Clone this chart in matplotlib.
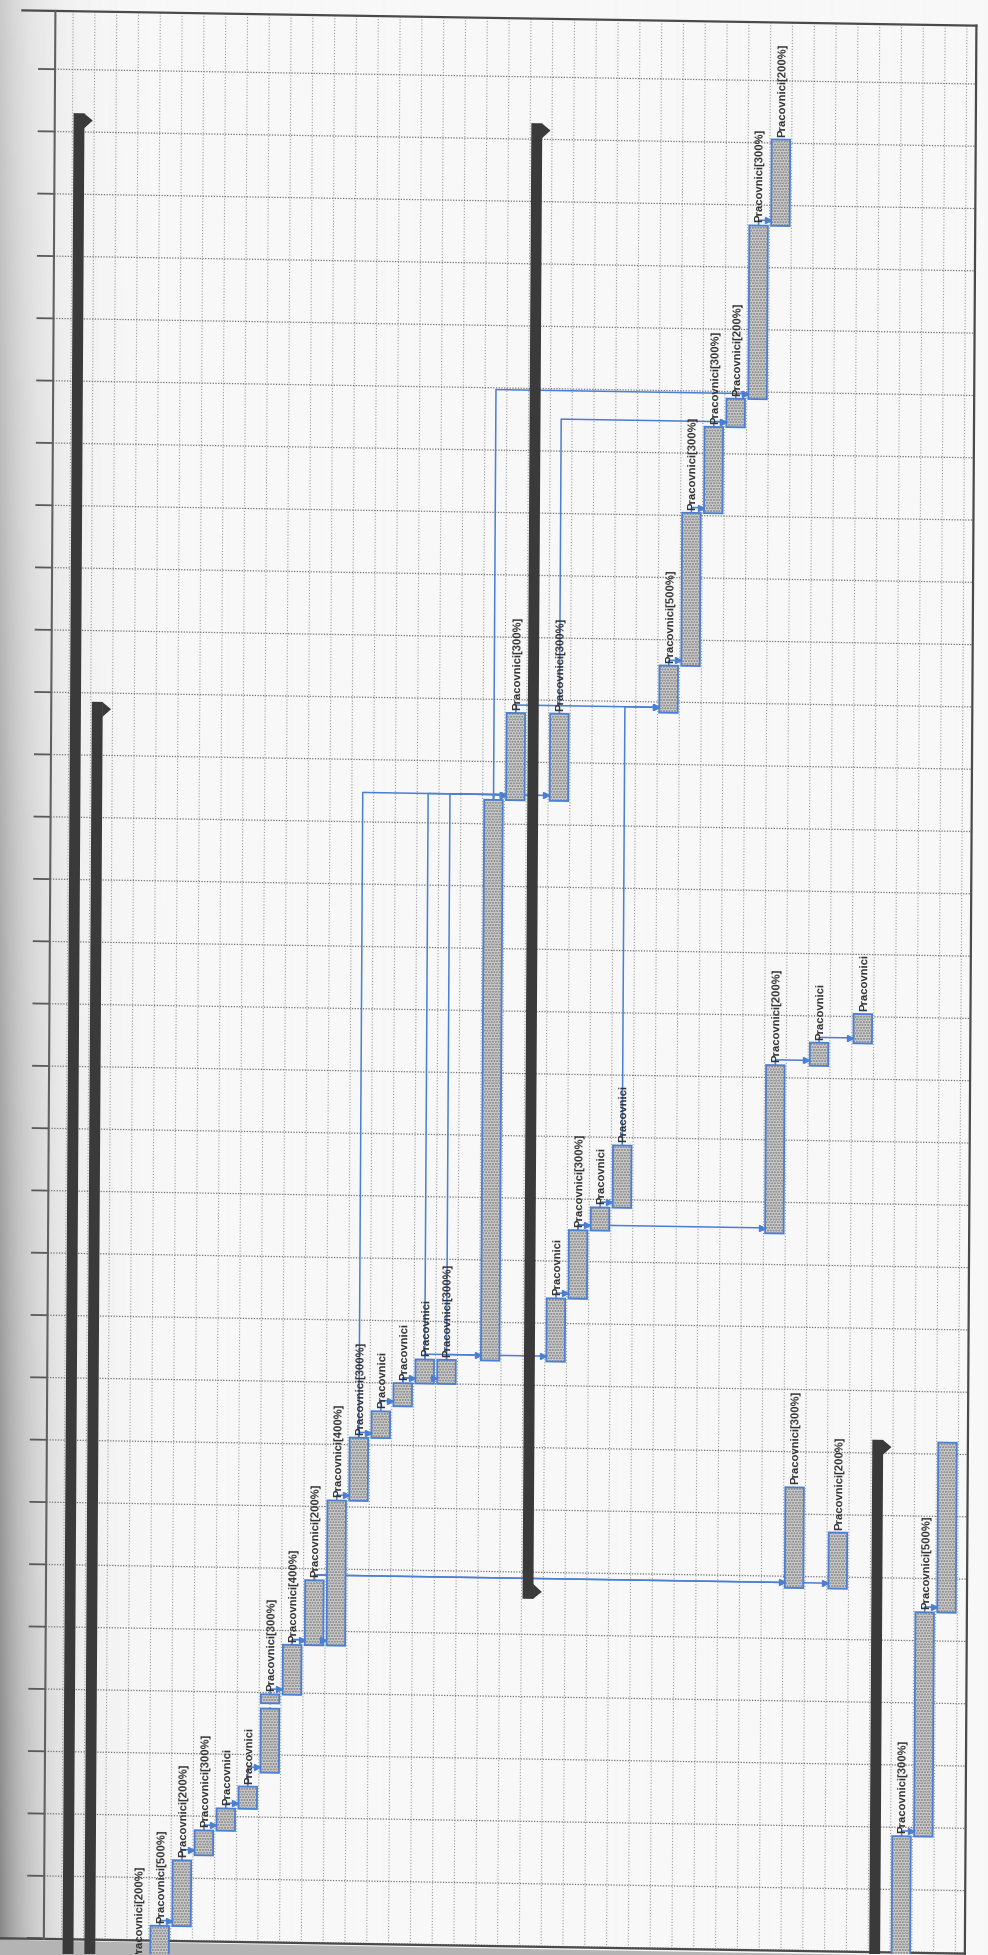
"""
Rotated Gantt chart (scanned MS Project print): time runs bottom -> top,
task rows run left -> right. Bars, links and resource labels.
"""

import numpy as np
import matplotlib
matplotlib.use("Agg")
import matplotlib.pyplot as plt
import matplotlib.transforms as mtransforms
from matplotlib.patches import Rectangle

plt.rcParams["font.family"] = ["Liberation Sans", "DejaVu Sans"]

# ── DATA ──────────────────────────────────────────────────────────────────────
# time in days (0 = a week line near the bottom), rows = task row index
task_ids = ["t0", "t1", "t2", "t3", "t4", "t5", "t6a", "t6b", "t7", "t8", "t9",
            "t10", "t11", "t12", "t13", "t14", "t16", "t17", "t19",
            "c1", "c2", "c3", "c4", "lb", "m1", "m2",
            "a", "b", "c", "d", "e", "f",
            "r30", "r32", "r35", "r36", "r37"]
task_rows = [0, 1, 2, 3, 4, 5, 6, 6, 7, 8, 9,
             10, 11, 12, 13, 14, 16, 17, 19,
             19, 20, 21, 22, 29, 31, 33,
             24, 25, 26, 27, 28, 29,
             30, 32, 35, 36, 37]
task_start = [-13.0, -11.0, -5.4, 2.6, 5.4, 7.9, 12.0, 19.8, 20.8, 26.4, 26.4,
              42.7, 49.8, 53.4, 56.0, 56.0, 58.7, 121.7, 121.7,
              58.7, 65.8, 73.5, 76.1, 73.5, 92.4, 95.0,
              131.8, 137.1, 154.3, 164.0, 167.2, 186.7,
              33.7, 33.7, -9.0, 6.0, 31.2]
task_end = [-9.5, -5.4, 2.0, 5.4, 7.9, 10.4, 19.2, 20.8, 26.4, 33.7, 42.7,
            49.8, 52.8, 56.0, 58.7, 58.7, 121.7, 131.5, 131.5,
            65.8, 73.5, 76.1, 83.1, 92.4, 95.0, 98.3,
            137.1, 154.3, 164.0, 167.2, 186.7, 196.4,
            45.0, 40.0, 6.0, 31.2, 50.3]
P = "Pracovnici"
task_labels = ["Pracovnici[200%]", "Pracovnici[500%]", "Pracovnici[200%]",
               "Pracovnici[300%]", P, P, "", "Pracovnici[300%]",
               "Pracovnici[400%]", "Pracovnici[200%]", "Pracovnici[400%]",
               "Pracovnici[300%]", P, P, P, "Pracovnici[300%]", "",
               "Pracovnici[300%]", "Pracovnici[300%]",
               P, "Pracovnici[300%]", P, P, "Pracovnici[200%]", P, P,
               "Pracovnici[500%]", "Pracovnici[300%]", "Pracovnici[300%]",
               "Pracovnici[200%]", "Pracovnici[300%]", "Pracovnici[200%]",
               "Pracovnici[300%]", "Pracovnici[200%]", "Pracovnici[300%]",
               "Pracovnici[500%]", ""]

# split task: dotted line between the two parts of row 6
split_row = 6
split_from, split_to = 19.2, 19.8

summary_rows = [-3, -2, 18, 34]
summary_start = [-14.0, -14.0, 32.0, -14.0]
summary_end = [198.1, 132.0, 197.8, 50.5]

links = [("t1", "t2"), ("t2", "t3"), ("t3", "t4"), ("t4", "t5"), ("t5", "t6a"),
         ("t6b", "t7"), ("t7", "t8"), ("t7", "t9"), ("t9", "t10"),
         ("t10", "t11"), ("t11", "t12"), ("t12", "t13"), ("t12", "t14"),
         ("t13", "t16"), ("t14", "c1"), ("t10", "t17"), ("t13", "t17"),
         ("t14", "t17"), ("t16", "t17"), ("t16", "t19"), ("t16", "e"),
         ("t8", "r30"), ("t8", "r32"), ("c1", "c2"), ("c2", "c3"),
         ("c2", "lb"), ("c3", "c4"), ("c4", "a"), ("t17", "a"), ("t19", "d"),
         ("a", "b"), ("b", "c"), ("c", "d"), ("d", "e"), ("e", "f"),
         ("lb", "m1"), ("m1", "m2"), ("r35", "r36"), ("r36", "r37")]

week_lines = list(range(-7, 210, 7))

# ── LAYOUT (pixels of the scanned page) ──────────────────────────────────────
W, H, DPI = 988, 1955, 100
COL_PX, ROW0_PX = 21.8, 139.0
DAY_PX, T0_PX = 8.9, 1880.0
LEFT_PX, RIGHT_PX, TOP_PX, BOTTOM_PX = 0, 966, 15, 1943
HEADER_PX = 45
SHEAR_X, SHEAR_Y = 0.006, -0.016   # scan skew
PIVOT = (300, 1750)

BLUE = "#4a7fd4"
BAR_W = 0.85
STEP = 0.6
SUM_W, SUM_OFF = 0.5, -0.2

xlim = ((LEFT_PX - ROW0_PX) / COL_PX, (RIGHT_PX - ROW0_PX) / COL_PX)
ylim = ((T0_PX - BOTTOM_PX) / DAY_PX, (T0_PX - TOP_PX) / DAY_PX)
x_header = (HEADER_PX - ROW0_PX) / COL_PX
text_rot = 90 - np.degrees(np.arctan(SHEAR_X))

fig = plt.figure(figsize=(W / DPI, H / DPI), dpi=DPI, facecolor="white")

# scanner shadow along the spine + grey strip below the page
bg = fig.add_axes([0, 0, 1, 1])
bg.set_xlim(0, W)
bg.set_ylim(H, 0)
bg.axis("off")
gx, gy = np.meshgrid(np.arange(W), np.arange(H))
shade = 0.972 - 0.40 * np.exp(-gx / 36.0) * (0.45 + 0.65 * gy / H)
bg.imshow(shade, cmap="gray", vmin=0, vmax=1, extent=(0, W, H, 0),
          aspect="auto", interpolation="bilinear")
bg.fill([0, W, W, 0], [1940, 1957, H, H], color="#b4b4b4", lw=0)

ax = fig.add_axes([LEFT_PX / W, 1 - BOTTOM_PX / H,
                   (RIGHT_PX - LEFT_PX) / W, (BOTTOM_PX - TOP_PX) / H])
ax.set_autoscale_on(False)
ax.set_xlim(*xlim)
ax.set_ylim(*ylim)
ax.axis("off")
ax.patch.set_alpha(0)

px, py = PIVOT[0], H - PIVOT[1]
skew = mtransforms.Affine2D(np.array([[1.0, SHEAR_X, -SHEAR_X * py],
                                      [SHEAR_Y, 1.0, -SHEAR_Y * px],
                                      [0.0, 0.0, 1.0]]))
tilt = ax.transData + skew
frame = Rectangle((0, 0), 1, 1, transform=ax.transAxes + skew,
                  facecolor="none", edgecolor="none")

# ── GRID ──────────────────────────────────────────────────────────────────────
ax.vlines([k + 0.5 for k in range(-4, 38)], ylim[0], ylim[1], colors="#9c9c9c",
          linestyles=(0, (1, 1.6)), lw=0.8, zorder=1)
ax.hlines(week_lines, x_header, xlim[1], colors="#747474",
          linestyles=(0, (1, 1.2)), lw=0.9, zorder=1)
# timescale header ticks
ax.hlines(week_lines, (28 - ROW0_PX) / COL_PX, x_header, colors="#5a5a5a",
          lw=1.3, zorder=1)

# ── LINKS ─────────────────────────────────────────────────────────────────────
for p_id, s_id in links:
    p, s = task_ids.index(p_id), task_ids.index(s_id)
    xp, te = task_rows[p], task_end[p]
    xs, ts = task_rows[s] - BAR_W / 2, task_start[s]
    yj = max(te, ts) + STEP
    ax.plot([xp, xp, xs], [te, yj, yj], color=BLUE, lw=1.1, zorder=2)
    ax.plot(xs - 0.15, yj, marker=">", ms=4.5, color=BLUE, zorder=3.6, lw=0)

ax.plot([split_row, split_row], [split_from, split_to], color=BLUE,
        ls=(0, (1, 2)), lw=1.0, zorder=2)

# ── BARS ──────────────────────────────────────────────────────────────────────
heights = np.subtract(task_end, task_start)
ax.bar(task_rows, heights, bottom=task_start, width=BAR_W, color="#cdcdcd",
       hatch="......", edgecolor="#7c7c7c", linewidth=0, zorder=3)
ax.bar(task_rows, heights, bottom=task_start, width=BAR_W, fill=False,
       edgecolor=BLUE, linewidth=1.3, zorder=3.5)

# summary bars (left part of their row) with end markers
sum_x = np.add(summary_rows, SUM_OFF)
ax.bar(sum_x, np.subtract(summary_end, summary_start), bottom=summary_start,
       width=SUM_W, color="#3a3a3a", lw=0, zorder=4)
for x, ts, te in zip(sum_x, summary_start, summary_end):
    xr = x + SUM_W / 2
    ax.fill([xr - 0.02, xr + 0.38, xr - 0.02], [te, te - 0.8, te - 1.7],
            color="#3a3a3a", lw=0, zorder=4)
    ax.fill([xr - 0.02, xr + 0.38, xr - 0.02], [ts, ts + 0.8, ts + 1.7],
            color="#3a3a3a", lw=0, zorder=4)

# ── LABELS ────────────────────────────────────────────────────────────────────
for r, te, lab in zip(task_rows, task_end, task_labels):
    if lab:
        ax.text(r + 0.05, te + 0.35, lab, rotation=text_rot,
                rotation_mode="anchor", ha="left", va="center", fontsize=8.1,
                fontweight="bold", color="#333333", zorder=5, clip_on=True)

# ── BORDERS ───────────────────────────────────────────────────────────────────
x_top_start = (12 - ROW0_PX) / COL_PX
border = [
    ax.plot([x_top_start, xlim[1]], [ylim[1], ylim[1]], color="#4a4a4a", lw=1.6)[0],
    ax.plot([xlim[1], xlim[1]], [ylim[0], ylim[1]], color="#4a4a4a", lw=1.6)[0],
    ax.plot([xlim[0], xlim[1]], [ylim[0], ylim[0]], color="#4a4a4a", lw=1.6)[0],
    ax.plot([x_header, x_header], [ylim[0], ylim[1]], color="#606060", lw=1.5)[0],
]

# apply the scan skew to everything drawn on the chart
for art in ax.lines + ax.patches + ax.texts + ax.collections:
    art.set_transform(tilt)
    if art in border:
        art.set_clip_on(False)
    else:
        art.set_clip_path(frame)

fig.savefig("out.png", dpi=DPI)
